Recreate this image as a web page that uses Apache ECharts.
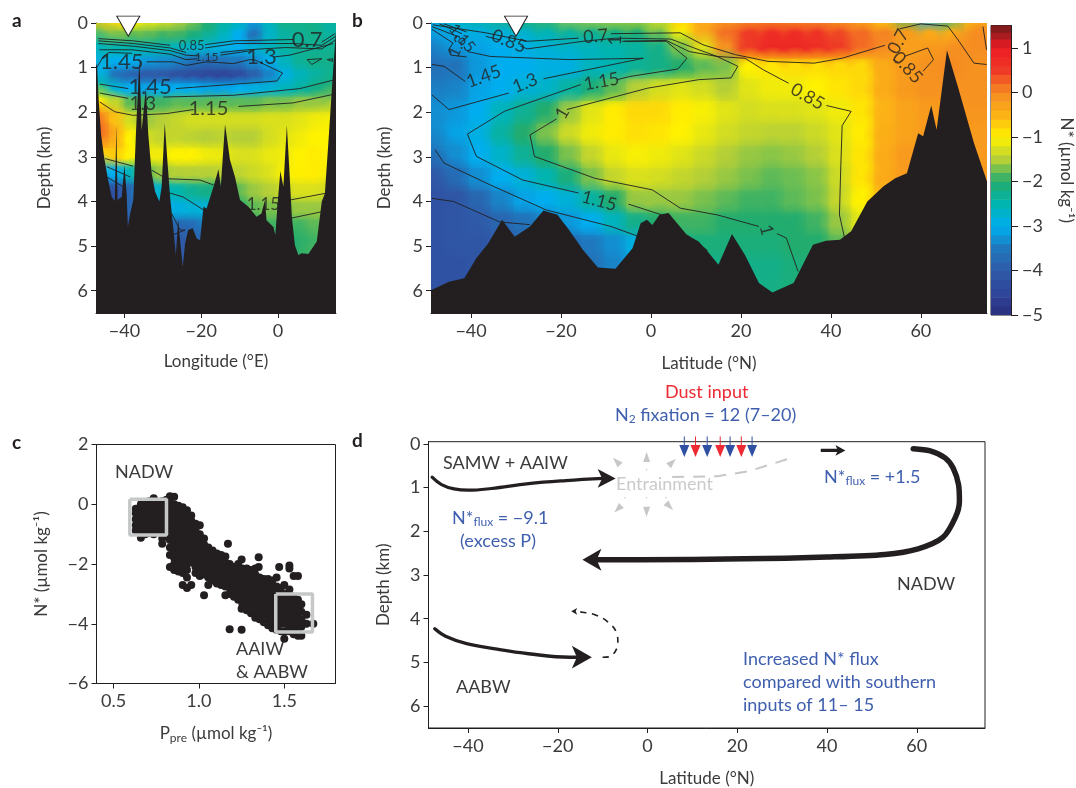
<!DOCTYPE html>
<html><head><meta charset="utf-8">
<script src="https://cdn.jsdelivr.net/npm/echarts@6/dist/echarts.min.js"></script>
<style>html,body{margin:0;padding:0;background:#fff}#c{width:1076px;height:788px}</style></head>
<body><div id="c"></div>
<script>
const colorStops=['#2a2e7e','#2f4599','#2f5aa8','#1f78bd','#00aeef','#00b4b0','#22ac6e','#b5cf37','#fff200','#fcb316','#f58a22','#ee3a26','#ed1c24','#7a1a1c'];
const barLevels=[-4.9,-4.7,-4.5,-4.3,-4.1,-3.9,-3.7,-3.5,-3.3,-3.1,-2.9,-2.7,-2.5,-2.3,-2.1,-1.9,-1.7,-1.5,-1.3,-1.1,-0.9,-0.7,-0.5,-0.3,-0.1,0.1,0.3,0.5,0.7,0.9,1.1,1.3,1.45];
const lonA=[-46,-42,-38,-34,-30,-26,-22,-18,-14,-10,-6,-2,2,6,10,14];
const depthA=[0.05,0.3,0.6,0.9,1.2,1.5,1.8,2.2,2.6,3,3.4,3.8,4.2,4.6,5];
const fieldA=[
[-0.7,-0.8,-1,-1.2,-1.3,-1.5,-1.7,-2,-2.4,-2.6,-3.2,-2.6,-2.2,-2.2,-2.2,-2.4],
[-1.7,-1.7,-1.8,-1.8,-1.9,-1.9,-2.1,-2.3,-2.6,-3,-3.6,-2.7,-2.4,-2.3,-2.2,-2.4],
[-2.5,-2.5,-2.5,-2.5,-2.5,-2.6,-2.7,-2.8,-2.9,-3,-2.8,-2.6,-2.4,-2.3,-2.3,-2.3],
[-2.8,-3,-3,-3.2,-3.3,-3.4,-3.6,-3.7,-3.6,-3.5,-3.3,-3,-2.6,-2.3,-2.2,-2.2],
[-3,-3.6,-3.8,-4,-4,-4.2,-4.3,-4.4,-4.5,-4.3,-3.9,-3.4,-2.9,-2.6,-2.4,-2.3],
[-2.4,-2.8,-3,-3.1,-3,-3,-3,-3.1,-3.1,-3,-2.9,-2.8,-2.6,-2.4,-2.2,-2.1],
[-1,-1.4,-1.8,-1.9,-1.9,-1.8,-1.8,-1.8,-1.8,-1.8,-1.8,-1.7,-1.7,-1.6,-1.6,-1.6],
[0.1,-0.6,-1.3,-1.6,-1.5,-1.4,-1.3,-1.3,-1.3,-1.3,-1.3,-1.25,-1.25,-1.2,-1.1,-1.05],
[0.2,-0.4,-1,-1.3,-1.4,-1.4,-1.45,-1.5,-1.45,-1.5,-1.5,-1.3,-1.2,-1.1,-1,-1],
[-0.8,-0.7,-1,-1.1,-1.1,-1,-1,-1.1,-1.15,-1.25,-1.25,-1.15,-1.1,-1,-0.95,-1],
[-3,-3,-2.6,-1.8,-1.6,-1.5,-1.5,-1.5,-1.45,-1.45,-1.35,-1.25,-1.05,-0.98,-0.95,-1.05],
[-4.4,-4.2,-3.8,-3,-2.7,-2.5,-2.3,-2.2,-2,-1.8,-1.6,-1.5,-1.35,-1.25,-1.25,-1.35],
[-4.4,-4.2,-3.8,-3.3,-3,-2.9,-2.8,-2.8,-2.3,-2,-1.8,-1.7,-1.7,-1.6,-1.6,-1.6],
[-4.4,-4.4,-4,-3.8,-3.6,-3.8,-3.7,-3.4,-2.8,-2.2,-2,-1.9,-1.9,-1.9,-1.8,-1.8],
[-4.4,-4.4,-4,-4,-4,-4,-4,-3.8,-3,-2.4,-2.1,-2,-2,-2,-1.9,-1.9]];
const latB=[-48,-43,-38,-33,-28,-23,-18,-13,-8,-3,2,7,12,17,22,27,32,37,42,47,52,57,62,67,72];
const depthB=[0.05,0.3,0.6,1,1.5,2,2.5,3,3.5,4,4.5,5,5.5,6];
const fieldB=[
[-2.6,-2.5,-2.4,-2.2,-2,-1.9,-1.6,-1.5,-1.4,-1.4,-1.2,-0.7,-0.4,-0.3,-0.3,-0.2,-0.3,-0.3,-0.4,-0.5,-0.8,-1.8,-3,-2.2,-0.9],
[-3,-3,-2.9,-2.8,-2.7,-2.5,-2.3,-2.2,-2.1,-2,-1.7,-1,-0.3,0.2,0.5,0.7,0.7,0.6,0.4,0.2,0.05,-0.2,-0.4,-0.5,-0.1],
[-3.3,-3.2,-3.1,-3,-2.9,-2.8,-2.7,-2.6,-2.5,-2.4,-2.2,-1.7,-1.2,-0.1,0.5,0.8,0.8,0.7,0.5,0.2,0,-0.25,-0.2,-0.1,0],
[-3.7,-3.6,-3.2,-3,-3,-2.9,-2.9,-2.6,-2.5,-2.3,-2.2,-2,-1.8,-1.7,-1,-0.9,-0.85,-0.85,-0.8,-0.8,-0.4,-0.2,-0.1,0,-0.1],
[-3.5,-3.4,-3.1,-3,-2.8,-2.7,-2.4,-2.1,-1.8,-1.5,-1.3,-1.2,-1.3,-1.5,-1.2,-1.1,-1.1,-1,-0.9,-0.8,-0.4,-0.2,-0.1,-0.1,-0.1],
[-3.3,-3.2,-3,-2.6,-2.3,-2,-1.6,-1.2,-0.95,-0.8,-0.8,-0.95,-1.05,-1.2,-1.3,-1.25,-1.25,-1.2,-1.1,-0.9,-0.5,-0.3,-0.2,-0.2,-0.1],
[-3.3,-3.1,-2.9,-2.4,-2,-1.7,-1.35,-1.1,-0.95,-0.85,-0.9,-1,-1.15,-1.3,-1.4,-1.45,-1.45,-1.35,-1.2,-0.95,-0.45,-0.3,-0.2,-0.2,-0.2],
[-3.5,-3.3,-3,-2.7,-2.3,-2,-1.7,-1.4,-1.15,-1.05,-1.1,-1.2,-1.35,-1.5,-1.6,-1.65,-1.6,-1.5,-1.25,-0.9,-0.4,-0.2,-0.2,-0.2,-0.2],
[-4,-3.7,-3.3,-3,-2.8,-2.5,-2.1,-1.7,-1.4,-1.25,-1.3,-1.4,-1.5,-1.6,-1.7,-1.8,-1.75,-1.65,-1.35,-0.9,-0.4,-0.2,-0.2,-0.2,-0.2],
[-4.2,-4.1,-3.8,-3.4,-3.1,-3,-2.8,-2.4,-2,-1.6,-1.6,-1.6,-1.7,-1.8,-1.9,-1.9,-1.8,-1.7,-1.4,-1,-0.5,-0.3,-0.2,-0.2,-0.2],
[-4.2,-4.1,-4,-3.8,-3.6,-3.4,-3.2,-3,-2.6,-2.2,-2,-1.9,-1.9,-2,-2,-2,-2,-1.9,-1.6,-1.2,-0.6,-0.3,-0.2,-0.2,-0.2],
[-4.2,-4.1,-4.1,-4,-3.9,-3.8,-3.7,-3.5,-3.3,-2.9,-2.5,-2.2,-2.1,-2.1,-2.1,-2.1,-2,-2,-1.8,-1.3,-0.7,-0.3,-0.2,-0.2,-0.2],
[-4.2,-4.2,-4.1,-4.1,-4,-3.9,-3.8,-3.6,-3.4,-3,-2.6,-2.3,-2.2,-2.2,-2.2,-2.2,-2.1,-2,-1.8,-1.3,-0.7,-0.3,-0.2,-0.2,-0.2],
[-4.2,-4.2,-4.1,-4.1,-4,-3.9,-3.8,-3.6,-3.4,-3,-2.6,-2.3,-2.2,-2.2,-2.2,-2.2,-2.1,-2,-1.8,-1.3,-0.7,-0.3,-0.2,-0.2,-0.2]];
const seabedA=[[-47.4,0.9],[-47.1,0.99],[-46.7,1.73],[-46.1,2.48],[-45.3,3],[-44.4,3.45],[-43.3,3.9],[-42.5,3.99],[-42.3,3.97],[-42.1,2.29],[-41.8,3.97],[-40.7,3.9],[-40,3.19],[-39.4,3.86],[-39.1,4.57],[-38.5,4.27],[-37.7,3.97],[-37,2.48],[-36.1,0.8],[-35.5,2.4],[-35.1,2.4],[-34.4,1.45],[-33.8,2.48],[-32.9,3.37],[-32,3.78],[-30.9,4],[-30.3,3.67],[-29.5,2.24],[-28.7,3.22],[-28.1,3.9],[-27.3,4.57],[-26.6,5.2],[-26,4.42],[-25.5,4.87],[-24.8,5.46],[-24.2,4.94],[-23.4,4.64],[-22.2,4.6],[-21.2,4.83],[-20.3,4.87],[-19.4,4.12],[-18.6,4.16],[-16.8,3.67],[-15.5,3.28],[-14.9,3.67],[-13.8,2.27],[-12.5,3.07],[-11.2,3.45],[-9.9,3.97],[-7.7,4.12],[-5.6,4.34],[-4.3,4.27],[-3.4,3.97],[-3,4.42],[-1.2,4.57],[-0.7,4.75],[-0.1,4.04],[0.6,3.32],[1.4,3.67],[2.3,2.29],[3,3.37],[3.6,4.34],[4.4,4.98],[5.3,5.2],[6.2,5.16],[7.9,5.18],[10.1,4.9],[11.4,4],[12.2,3.82],[13.1,2.7],[14.4,0.99],[15.1,0.16]];
const seabedB=[[-48.9,5.99],[-44.9,5.8],[-41.5,5.72],[-38.8,5.27],[-36.2,4.94],[-33.1,4.41],[-30.3,4.79],[-26.9,4.56],[-23.9,4.2],[-20.8,4.3],[-18.2,4.64],[-15.1,5.09],[-11.8,5.48],[-7.9,5.51],[-4.1,5.05],[-2.3,4.49],[-0.9,4.41],[0.3,4.53],[1.9,4.3],[3.9,4.26],[8,4.75],[10.6,4.9],[12.6,5.12],[15,5.42],[18,4.73],[20.9,5.2],[24,5.83],[27,6.04],[31.7,5.83],[36,4.97],[38.9,4.88],[42,4.86],[44.5,4.67],[48.1,4],[51.7,3.66],[54.3,3.48],[56.9,3.37],[59.4,2.47],[60.5,2.54],[62.3,1.85],[63.5,2.39],[65.8,0.61],[68.2,1.42],[71.8,2.69],[74.7,3.55]];
const contoursA=[
[[-46.8,0.35],[-37.7,0.4],[-28.1,0.5]],[[-19,0.485],[-11.6,0.4],[4,0.37]],[[11.4,0.43],[14.8,0.24]],
[[-46.8,0.4],[-37.7,0.46],[-28,0.56],[-24,0.66]],[[-19,0.56],[-11,0.46],[4,0.46],[11.4,0.5],[15,0.3]],
[[-46.8,0.46],[-37.7,0.52],[-28,0.62],[-24,0.72],[-20.5,0.74]],[[-15,0.66],[-8,0.6],[2,0.55],[11.4,0.58],[15,0.38]],
[[-46.5,0.6],[-38,0.6],[-28,0.7],[-24,0.82],[-21,0.8]],[[-15,0.72],[-7,0.62]],[[-1,0.76],[3.1,0.72],[14.4,0.46]],
[[-47.2,1],[-45.5,0.75],[-44,0.66],[-38,0.68]],[[-34.2,0.87],[-27.3,0.87],[-23.8,0.95],[-18.6,0.87],[-11.6,0.91],[-7.3,0.82],[-6,0.83],[1.2,1.12],[-0.3,1.3],[-26.6,1.47]],[[-39,1.47],[-46.4,1.37]],
[[7.6,0.82],[11.4,0.8],[8.8,0.93],[7.6,0.82]],[[12.8,0.82],[14.2,0.8],[14.2,0.86],[12.8,0.82]],
[[-29.9,1.66],[-11.6,1.62],[5.7,1.47],[14.4,1.28]],[[-46.4,1.57],[-39,1.69]],
[[-46.4,1.77],[-42.5,1.99],[-37.7,2.07],[-29,2.03],[-22,1.94]],[[-10.3,1.87],[4,1.79],[14.4,1.6]],
[[-45,3.04],[-37.7,3.21]],[[-44.6,3.22],[-38.5,3.45]],[[-44.6,3.45],[-40.3,3.67]],
[[-32.9,3.3],[-29,3.49],[-20.3,3.52],[-16.8,3.63]],[[-28.6,3.8],[-24.7,3.9],[-19.4,4.19]],
[[3,3.97],[12.2,3.82]],[[3.1,4.38],[11.4,4.23]],[[-27.7,4.27],[-25.5,4.64],[-24.2,4.64],[-27.4,4.75]]];
const contoursB=[
[[-48.5,0.04],[-36.7,0.22],[-27.5,0.41],[-16.1,0.34]],[[-8.9,0.24],[6.5,0.22],[11.6,0.49],[18.8,0.71],[26,0.86],[36.3,0.9],[42.5,0.79],[52,0.5]],
[[55.3,0.13],[60,0.02],[66,0.07],[68.2,0.37],[71.8,0.9],[74.6,0.93]],[[73.8,0.08],[74.6,0.6]],
[[-36.7,0.3],[-33.5,0.38]],[[-29,0.52],[-27.5,0.58],[-15.1,0.41],[-7.9,0.34],[4.4,0.36],[9.6,0.56],[14.7,0.75],[20.9,0.79],[25,1.05],[30.6,1.35]],[[39,1.85],[39.4,1.87],[44.5,1.98],[42.5,2.3],[42.2,3.2],[41.9,4.3],[43,4.8]],
[[53.8,0.82],[55,0.88]],[[56.3,0.75],[61.5,0.56],[62.8,0.82],[60.5,1.08]],
[[-6.5,0.41],[3.4,0.39],[8.5,0.64],[14.7,0.75],[19.3,0.97],[17.8,1.23],[10.6,1.27],[-0.7,1.46],[-18.7,1.94]],[[-21,2.15],[-26.9,2.51],[-25.9,2.99],[-12.5,3.48],[0.3,3.74],[6.5,4.15],[14.7,4.3],[24,4.56]],[[28,4.72],[30.1,4.82],[32.7,5.57]],
[[-5.9,0.41],[3.4,0.41],[8,0.79],[6,1.03],[-4.8,1.2],[-7.5,1.27]],[[-15.6,1.38],[-32.6,1.98],[-40.8,2.49],[-38.8,2.99],[-28.5,3.52],[-16.1,3.81]],[[-5,4.06],[2.4,4.3]],[[8,4.75],[12.6,5.1]],
[[-40.8,0.64],[-35.7,0.75],[-18.2,0.82],[-1.7,0.79],[-23.9,1.25]],[[-31.6,1.57],[-44.9,1.94],[-48.7,1.61]],
[[-48.7,0.93],[-46,0.97],[-41.3,1.31]],
[[-48.7,0.14],[-44,0.45],[-45,0.6],[-44.5,0.72],[-41,0.76]],[[-48.7,0.08],[-43,0.3]],[[-47,0.02],[-42,0.24]],[[-46,0.02],[-41,0.2]],
[[-48,2.84],[-46,3.14],[-35.7,3.63],[-23.3,4.19],[-8.9,4.56],[-0.7,4.86]],
[[-48.7,3.93],[-43.9,4],[-33.6,4.46],[-26.9,4.52]]];
const labelsA=[[-22.5,0.52,'0.85'],[-18.6,0.76,'1.15'],[7.6,0.37,'0.7'],[-4.3,0.76,'1.3'],[-40.7,0.87,'1.45'],[-33.3,1.43,'1.45'],[-35.2,1.81,'1.3'],[-18.1,1.92,'1.15'],[-3.8,4.06,'1.15']];
const labelSizeA=[13,12,22,22,22,22,19,20,17];
const labelsB=[[-31.6,0.41,'0.85'],[-12.3,0.3,'0.7'],[-7.9,0.39,'1'],[-28,1.35,'1.3'],[-11,1.31,'1.15'],[-37.2,1.2,'1.45'],[-19.7,2.02,'1'],[-42,0.34,'1.15'],[-43,0.52,'1.3'],[-11.5,3.99,'1.15'],[34.8,1.65,'0.85'],[25.7,4.64,'1'],[55,0.42,'0.7'],[57,1,'0.85']];
const labelTurnB=[-22,5,90,22,10,20,60,-50,65,-15,-30,-75,62,-48];
const labelSizeB=[18,18,18,18,18,18,18,16,16,18,18,18,18,18];
const stationA=[[-39,0.07]], stationB=[[-30,0.07]];
const scatterColumns=[
[0.63,[-0.15,-0.3,-0.5,-0.7,-0.88]],[0.66,[0,-0.15,-0.35,-0.55,-0.72,-0.9,-1.12]],[0.685,[0,-0.2,-0.4,-0.6,-0.8,-1]],[0.71,[0.1,-0.1,-0.3,-0.5,-0.7,-0.95]],[0.735,[0.2,0.02,-0.2,-0.4,-0.6,-0.8,-1]],[0.76,[0.08,-0.1,-0.3,-0.5,-0.7,-0.9]],[0.785,[0.1,-0.1,-0.3,-0.5,-0.7,-0.9,-1.15,-1.32]],[0.81,[0.15,-0.05,-0.25,-0.45,-0.65,-0.85,-1.05]],[0.83,[0.27,0.05,-0.15,-0.35,-0.55,-0.75,-0.95,-1.2,-1.45,-1.7,-2.1]],[0.855,[0.25,0,-0.2,-0.4,-0.6,-0.8,-1,-1.2,-1.4,-1.6,-1.8,-2,-2.2]],[0.88,[-0.05,-0.25,-0.45,-0.65,-0.85,-1.05,-1.25,-1.45,-1.65,-1.85,-2.05,-2.25]],[0.905,[-0.1,-0.3,-0.5,-0.7,-0.9,-1.1,-1.3,-1.5,-1.7,-1.9,-2.1,-2.3,-2.7]],[0.93,[-0.2,-0.4,-0.6,-0.8,-1,-1.2,-1.4,-1.6,-1.8,-2,-2.2,-2.45,-2.8]],[0.955,[-0.38,-0.55,-0.75,-0.95,-1.15,-1.35,-1.55,-1.75,-1.95,-2.7]],[0.98,[-0.65,-0.85,-1.05,-1.25,-1.45,-1.65,-1.85,-2.1,-2.3]],[1.005,[-0.7,-1,-1.2,-1.4,-1.6,-1.8,-2,-2.2,-2.4]],[1.03,[-1.15,-1.35,-1.55,-1.75,-1.95,-2.15,-2.35,-3.05]],[1.055,[-1.45,-1.65,-1.85,-2.05,-2.25,-2.45,-2.7]],[1.08,[-1.55,-1.75,-1.95,-2.15,-2.35,-2.55]],[1.105,[-1.65,-1.85,-2.05,-2.25,-2.45,-2.65]],[1.13,[-1.7,-1.9,-2.1,-2.3,-2.5,-2.7]],[1.155,[-1.75,-1.95,-2.15,-2.35,-2.55,-2.75,-3.05]],[1.17,[-1.32]],[1.18,[-2,-2.2,-2.4,-2.6,-2.8,-3,-4.18]],[1.205,[-2.1,-2.3,-2.5,-2.7,-2.9,-3.1]],[1.23,[-2,-2.2,-2.4,-2.6,-2.8,-3,-3.2]],[1.25,[-1.85,-3.5,-4.2]],[1.255,[-2.15,-2.35,-2.55,-2.75,-2.95,-3.15,-3.35]],[1.28,[-2.15,-2.35,-2.55,-2.75,-2.95,-3.15,-3.35,-3.55]],[1.305,[-2.2,-2.4,-2.6,-2.8,-3,-3.2,-3.4,-3.65]],[1.33,[-2.15,-2.35,-2.55,-2.75,-2.95,-3.15,-3.35,-3.55,-3.8]],[1.35,[-1.77,-2.1]],[1.355,[-2.45,-2.65,-2.85,-3.05,-3.25,-3.45,-3.65,-3.85]],[1.38,[-2.5,-2.7,-2.9,-3.1,-3.3,-3.5,-3.7,-3.95]],[1.405,[-2.5,-2.7,-2.9,-3.1,-3.3,-3.5,-3.7,-3.9,-4.05]],[1.43,[-2.55,-2.8,-3,-3.2,-3.4,-3.6,-3.8,-4,-4.15]],[1.455,[-2.45,-2.75,-2.95,-3.15,-3.35,-3.55,-3.75,-3.95,-4.2]],[1.47,[-2.1]],[1.48,[-2.8,-3,-3.2,-3.4,-3.6,-3.8,-4,-4.25]],[1.50,[-2.7,-4.5]],[1.505,[-3,-3.2,-3.4,-3.6,-3.8,-4,-4.25]],[1.53,[-2.05,-2.15,-2.85,-3.05,-3.25,-3.45,-3.65,-3.85,-4.05,-4.25]],[1.555,[-2.4,-3.1,-3.3,-3.5,-3.7,-3.9,-4.1,-4.35]],[1.58,[-2.4,-3.2,-3.4,-3.6,-3.8,-4,-4.2,-4.4]],[1.60,[-3.35,-3.6,-3.85,-4.1,-4.4]],[1.63,[-3.7,-4]],[1.67,[-4]]];
const boxNADW=[[0.595,0.17],[0.81,0.17],[0.81,-1.03],[0.595,-1.03],[0.595,0.17]];
const boxAABW=[[1.45,-3],[1.665,-3],[1.665,-4.28],[1.45,-4.28],[1.45,-3]];
const pathSAMW=[[-48,0.76],[-45.9,0.93],[-43.1,1.03],[-39.9,1.06],[-34.8,1.02],[-26.5,0.91],[-18.2,0.84],[-9.8,0.79]];
const pathNADW=[[59.2,0.11],[63,0.16],[66.3,0.32],[68.1,0.55],[69.3,0.93],[69.5,1.31],[68.6,1.68],[65.8,2.14],[60.3,2.4],[52.9,2.53],[40,2.59],[21.5,2.63],[-1.6,2.65],[-11.6,2.65]];
const pathAABW=[[-47.4,4.23],[-45,4.4],[-40.3,4.57],[-33.9,4.69],[-26.5,4.8],[-17.3,4.88],[-15.4,4.88]];
const pathReturn=[[-10,4.88],[-8.5,4.87],[-6.6,4.55],[-6.9,4.32],[-9,4.06],[-11.7,3.91],[-14.5,3.85],[-16.3,3.83]];
const pathEntrain=[[5.5,0.76],[15.5,0.74],[22.4,0.63],[33,0.29]];
const pathSurface=[[38.6,0.15],[42.5,0.15]];
const heads=[[-7.1,0.79,270,14,18],[-14.5,2.65,90,16.5,19],[-12.4,4.88,270,17,20],[-17,3.83,90,5,6],[44.1,0.15,270,8,10]];
const entrainHeads=[[-0.2,0.3,0],[-6.9,0.4,45],[5.5,0.42,-45],[-6.6,1.49,135],[4.9,1.43,-135],[-0.2,1.55,180]];
const entrainDots=[[-0.2,0.59],[-5,1.23],[-0.2,1.23],[4.1,1.23],[-3.9,1.06],[3.2,1.04]];
const blueInputs=[8.2,13.3,18.4,23.3], redInputs=[10.7,16.2,20.9];

const INK='#231f20', TXT='#3c3a3b', BLUE='#3f5fae', RED='#ed2a33', FONT='Lato';
function fieldCells(xs,ds,f){const out=[];const edge=(a,i)=>[i?(a[i]+a[i-1])/2:a[0]-(a[1]-a[0]),i<a.length-1?(a[i]+a[i+1])/2:a[i]+(a[i]-a[i-1])];
 ds.forEach((d,r)=>{const [t,b]=edge(ds,r);xs.forEach((x,c)=>{const [l,h]=edge(xs,c);out.push([l,h,r?t:-0.2,b,f[r][c]]);});});return out;}
function box(api){const a=api.coord([api.value(0),api.value(2)]),b=api.coord([api.value(1),api.value(3)]);return{x:Math.min(a[0],b[0]),y:Math.min(a[1],b[1]),w:Math.abs(b[0]-a[0]),h:Math.abs(b[1]-a[1])};}
function sharp(p,api){const r=box(api);return{type:'rect',shape:{x:r.x,y:r.y,width:r.w+0.6,height:r.h+0.6},style:{fill:api.visual('color')}};}
function soft(p,api){const r=box(api),c=api.visual('color'),s=2.2*Math.max(r.w,r.h),cx=r.x+r.w/2,cy=r.y+r.h/2;const a=x=>echarts.color.modifyAlpha(c,x);
 return{type:'rect',shape:{x:cx-s/2,y:cy-s/2,width:s,height:s},style:{fill:{type:'radial',x:0.5,y:0.5,r:0.5,colorStops:[{offset:0,color:a(1)},{offset:0.2,color:a(1)},{offset:0.45,color:a(0.55)},{offset:0.9,color:a(0)},{offset:1,color:a(0)}]}}};}
const enc={x:[0,1],y:[2,3]};
const series=[];
function addField(i,cells){series.push({type:'custom',xAxisIndex:i,yAxisIndex:i,clip:true,renderItem:sharp,encode:enc,data:cells,silent:true});
 series.push({type:'custom',xAxisIndex:i,yAxisIndex:i,clip:true,renderItem:soft,encode:enc,data:cells,silent:true});}
function addLine(i,d,st,z,smooth){series.push({type:'line',xAxisIndex:i,yAxisIndex:i,data:d,showSymbol:false,symbol:'none',silent:true,z:z||3,smooth:smooth||false,clip:st.clip!==false,lineStyle:st});}
function addOcean(i,cells,contours,seabed,labels,sizes,turns,station){
 addField(i,cells);
 contours.forEach(c=>addLine(i,c,{color:INK,width:0.9}));
 series.push({type:'line',xAxisIndex:i,yAxisIndex:i,data:seabed,showSymbol:false,symbol:'none',silent:true,z:4,lineStyle:{width:0},areaStyle:{color:INK,origin:'end',opacity:1}});
 series.push({type:'scatter',xAxisIndex:i,yAxisIndex:i,symbolSize:0,silent:true,z:5,data:labels.map((l,k)=>({value:l,label:{show:true,position:'inside',formatter:l[2],fontFamily:FONT,color:INK,fontSize:sizes[k],rotate:turns?turns[k]:0}}))});
 series.push({type:'scatter',xAxisIndex:i,yAxisIndex:i,clip:false,silent:true,z:6,data:station,symbol:'triangle',symbolRotate:180,symbolSize:[23,20],itemStyle:{color:'#fff',opacity:1,borderColor:INK,borderWidth:1}});
}
addOcean(0,fieldCells(lonA,depthA,fieldA),contoursA,seabedA,labelsA,labelSizeA,null,stationA);
addOcean(1,fieldCells(latB,depthB,fieldB),contoursB,seabedB,labelsB,labelSizeB,labelTurnB,stationB);
series.push({type:'custom',xAxisIndex:2,yAxisIndex:2,clip:true,renderItem:sharp,encode:enc,silent:true,data:barLevels.map(v=>[0,1,v-0.1,v+0.1,v])});
const scatterPts=[];scatterColumns.forEach(c=>c[1].forEach(y=>scatterPts.push([c[0],y])));
series.push({type:'scatter',xAxisIndex:3,yAxisIndex:3,data:scatterPts,symbolSize:8,silent:true,itemStyle:{color:INK,opacity:1}});
addLine(3,boxNADW,{color:'#c6c7c8',width:3.5},6);addLine(3,boxAABW,{color:'#c6c7c8',width:3.5},6);
addLine(4,pathSAMW,{color:INK,width:3.2,cap:'round',join:'round'},3,0.4);
addLine(4,pathNADW,{color:INK,width:5.5,cap:'round',join:'round'},3,0.3);
addLine(4,pathAABW,{color:INK,width:3.4,cap:'round',join:'round'},3,0.4);
addLine(4,pathReturn,{color:INK,width:1.6,type:[6,6]},3,0.4);
addLine(4,pathEntrain,{color:'#c6c7c8',width:2,type:[12,9]});
addLine(4,pathSurface,{color:INK,width:3.2});
series.push({type:'scatter',xAxisIndex:4,yAxisIndex:4,silent:true,z:4,data:heads.map(h=>({value:[h[0],h[1]],symbolRotate:h[2],symbolSize:[h[3],h[4]]})),symbol:'arrow',itemStyle:{color:INK,opacity:1}});
series.push({type:'scatter',xAxisIndex:4,yAxisIndex:4,silent:true,z:3,data:entrainHeads.map(h=>({value:[h[0],h[1]],symbolRotate:h[2]})),symbol:'triangle',symbolSize:[7,10],itemStyle:{color:'#c6c7c8',opacity:1}});
series.push({type:'scatter',xAxisIndex:4,yAxisIndex:4,silent:true,z:3,data:entrainDots,symbolSize:1.5,itemStyle:{color:'#c6c7c8',opacity:1}});
function inputs(xs,col){xs.forEach(x=>addLine(4,[[x,-0.17],[x,0.05]],{color:col,width:1,clip:false}));
 series.push({type:'scatter',xAxisIndex:4,yAxisIndex:4,silent:true,z:4,clip:false,data:xs.map(x=>[x,0.16]),symbol:'triangle',symbolRotate:180,symbolSize:[10,12],itemStyle:{color:col,opacity:1}});}
inputs(blueInputs,'#2f4fa2');inputs(redInputs,RED);

const ts={fontFamily:FONT,color:TXT,fontSize:18};
const minus=v=>String(v).replace('-','\u2212');
function xA(i,min,max,ticks,name,fmt,gap){return{gridIndex:i,type:'value',min,max,position:'bottom',name,nameLocation:'middle',nameGap:gap,nameTextStyle:Object.assign({},ts,{fontSize:17,rich:{s:{fontFamily:FONT,color:TXT,fontSize:12,verticalAlign:'bottom',padding:[9,0,0,0]},n:{fontFamily:FONT,color:TXT,fontSize:17}}}),splitLine:{show:false},axisLine:{onZero:false,lineStyle:{color:INK,width:1}},axisTick:{customValues:ticks,length:5,lineStyle:{color:INK}},axisLabel:Object.assign({},ts,{customValues:ticks,margin:9,formatter:fmt||minus})};}
function yA(i,min,max,ticks,name,inv,gap){return{gridIndex:i,type:'value',min,max,inverse:!!inv,name,nameLocation:'middle',nameGap:gap,nameTextStyle:Object.assign({},ts,{fontSize:17}),splitLine:{show:false},axisLine:{onZero:false,lineStyle:{color:INK,width:1}},axisTick:{customValues:ticks,length:5,lineStyle:{color:INK}},axisLabel:Object.assign({},ts,{customValues:ticks,margin:8,formatter:minus})};}
const dTicks=[0,1,2,3,4,5,6];
const fieldSeries=series.map((s,i)=>s.type==='custom'?i:-1).filter(i=>i>=0);
const barAxis=yA(2,-5,1.5,[-5,-4,-3,-2,-1,0,1],'N* (\u00B5mol kg\u207B\u00B9)',false,47);
barAxis.position='right';barAxis.nameRotate=-90;barAxis.axisTick.length=7;barAxis.axisLabel.margin=11;
const rich16={s:{fontFamily:FONT,fontSize:12,fill:BLUE,padding:[9,0,0,0]}};
const option={animation:false,backgroundColor:'#fff',
 visualMap:{type:'continuous',show:false,seriesIndex:fieldSeries,dimension:4,min:-5,max:1.5,inRange:{color:colorStops}},
 grid:[
  {left:96,top:23,width:240,height:290},
  {left:431,top:23,width:556,height:290},
  {left:991,top:25.5,width:21,height:289.5,show:true,borderColor:INK,borderWidth:1},
  {left:96.5,top:444.5,width:239,height:239,show:true,borderColor:INK,borderWidth:1},
  {left:428.5,top:441.7,width:556.5,height:290,show:true,borderColor:INK,borderWidth:1}],
 xAxis:[
  xA(0,-47.4,15.1,[-40,-20,0],'Longitude (\u00B0E)',null,40),
  xA(1,-48.9,74.7,[-40,-20,0,20,40,60],'Latitude (\u00B0N)',null,42),
  {gridIndex:2,type:'value',min:0,max:1,show:false},
  xA(3,0.4,1.8,[0.5,1,1.5],'{n|P}{s|pre}{n| (\u00B5mol kg\u207B\u00B9)}',v=>(+v).toFixed(1),40),
  xA(4,-48.8,75.2,[-40,-20,0,20,40,60],'Latitude (\u00B0N)',null,42)],
 yAxis:[
  yA(0,0,6.5,dTicks,'Depth (km)',true,43),
  yA(1,0,6.5,dTicks,'Depth (km)',true,38),
  barAxis,
  yA(3,-6,2,[-6,-4,-2,0,2],'N* (\u00B5mol kg\u207B\u00B9)',false,46),
  yA(4,-0.05,6.5,dTicks,'Depth (km)',true,36)],
 series,
 graphic:{elements:[
  ...[['a',12,11],['b',352,11],['c',12,433],['d',352,431]].map(t=>({type:'text',left:t[1],top:t[2],silent:true,style:{text:t[0],fontFamily:FONT,fontWeight:'bold',fontSize:19,fill:INK}})),
  ...[['NADW',115,463],['AAIW',236,640],['& AABW',236,663],['SAMW + AAIW',443,454],['NADW',897,575],['AABW',456,678]].map(t=>({type:'text',left:t[1],top:t[2],silent:true,style:{text:t[0],fontFamily:FONT,fontSize:18,fill:TXT}})),
  {type:'text',left:616,top:475,silent:true,style:{text:'Entrainment',fontFamily:FONT,fontSize:18,fill:'#c9cacb'}},
  {type:'text',left:665,top:383,silent:true,style:{text:'Dust input',fontFamily:FONT,fontSize:18,fill:RED}},
  {type:'text',left:615,top:406,silent:true,style:{text:'N{s|2} fixation = 12 (7\u201320)',fontFamily:FONT,fontSize:18,fill:BLUE,rich:rich16}},
  {type:'text',left:452,top:509,silent:true,style:{text:'N*{s|flux} = \u22129.1',fontFamily:FONT,fontSize:18,fill:BLUE,rich:rich16}},
  {type:'text',left:460,top:532,silent:true,style:{text:'(excess P)',fontFamily:FONT,fontSize:18,fill:BLUE}},
  {type:'text',left:824,top:468,silent:true,style:{text:'N*{s|flux} = +1.5',fontFamily:FONT,fontSize:18,fill:BLUE,rich:rich16}},
  ...[['Increased N* flux',650],['compared with southern',673],['inputs of 11\u2013 15',696]].map(t=>({type:'text',left:743,top:t[1],silent:true,style:{text:t[0],fontFamily:FONT,fontSize:18,fill:BLUE}}))
 ]}
};
echarts.init(document.getElementById('c'),null,{renderer:'canvas'}).setOption(option);
</script></body></html>
